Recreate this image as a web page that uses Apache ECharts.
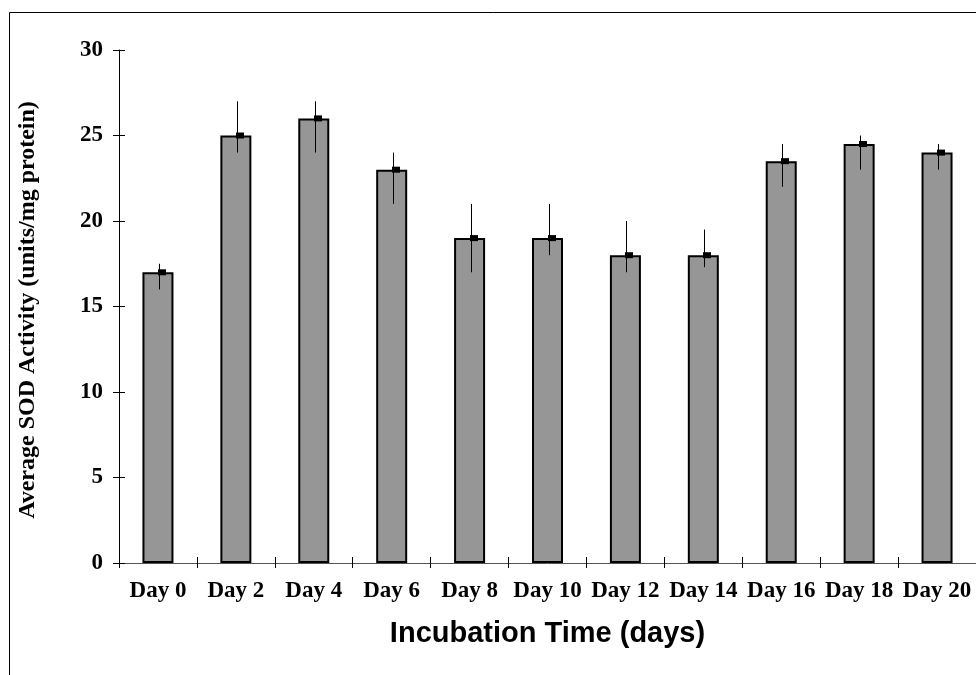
<!DOCTYPE html>
<html>
<head>
<meta charset="utf-8">
<script src="https://cdn.jsdelivr.net/npm/echarts@6/dist/echarts.min.js"></script>
<style>
  html, body { margin: 0; padding: 0; background: #fff; }
  #chart { width: 976px; height: 675px; }
</style>
</head>
<body>
<div id="chart"></div>
<script>
// Superoxide dismutase activity over the incubation period
const days = ['Day 0', 'Day 2', 'Day 4', 'Day 6', 'Day 8', 'Day 10', 'Day 12', 'Day 14', 'Day 16', 'Day 18', 'Day 20'];
const meanActivity = [17, 25, 26, 23, 19, 19, 18, 18, 23.5, 24.5, 24];
const errorLow  = [16, 24, 24, 21, 17, 18, 17, 17.3, 22, 23, 23];
const errorHigh = [17.5, 27, 27, 24, 21, 21, 20, 19.5, 24.5, 25, 24.5];
const yTicks = [0, 5, 10, 15, 20, 25, 30];

const serif = '"Liberation Serif", "Times New Roman", serif';
const sans = '"Liberation Sans", Arial, sans-serif';

const errorData = days.map((d, i) => [i, errorLow[i], errorHigh[i], meanActivity[i]]);

const chart = echarts.init(document.getElementById('chart'), null, { renderer: 'canvas' });

const yBase = {
  type: 'value',
  min: yTicks[0],
  max: yTicks[yTicks.length - 1],
  interval: yTicks[1] - yTicks[0],
  splitLine: { show: false },
  position: 'left'
};
const xBase = {
  type: 'category',
  data: days,
  position: 'bottom',
  boundaryGap: true
};

chart.setOption({
  animation: false,
  backgroundColor: '#fff',
  grid: { left: 119, top: 50, width: 862, height: 513, containLabel: false },
  graphic: [{
    type: 'rect',
    shape: { x: 9.5, y: 12.5, width: 1100, height: 800 },
    style: { fill: 'none', stroke: '#000', lineWidth: 1 },
    silent: true,
    z: -10
  }],
  xAxis: [
    Object.assign({}, xBase, {
      axisLine: { show: true, lineStyle: { color: '#555', width: 1 } },
      axisTick: { show: true, inside: false, length: 5, lineStyle: { color: '#000' } },
      axisLabel: {
        color: '#000', fontFamily: serif, fontWeight: 'bold', fontSize: 23,
        margin: 17, interval: 0
      },
      name: 'Incubation Time (days)',
      nameLocation: 'middle',
      nameGap: 56,
      nameTextStyle: { color: '#000', fontFamily: sans, fontWeight: 'bold', fontSize: 29 }
    }),
    Object.assign({}, xBase, {
      axisLine: { show: false },
      axisTick: { show: true, inside: true, length: 6, lineStyle: { color: '#000' } },
      axisLabel: { show: false }
    })
  ],
  yAxis: [
    Object.assign({}, yBase, {
      axisLine: { show: true, lineStyle: { color: '#000', width: 1 } },
      axisTick: { show: true, inside: false, length: 6, lineStyle: { color: '#000' } },
      axisLabel: {
        color: '#000', fontFamily: serif, fontWeight: 'bold', fontSize: 23, margin: 16
      },
      name: 'Average SOD Activity (units/mg protein)',
      nameLocation: 'middle',
      nameRotate: 90,
      nameGap: 79,
      nameTextStyle: {
        color: '#000', fontFamily: serif, fontWeight: 'bold', fontSize: 24,
        padding: [0, 7, 0, 0]
      }
    }),
    Object.assign({}, yBase, {
      axisLine: { show: false },
      axisTick: { show: true, inside: true, length: 6, lineStyle: { color: '#000' } },
      axisLabel: { show: false }
    })
  ],
  series: [
    {
      type: 'bar',
      data: meanActivity,
      xAxisIndex: 0,
      yAxisIndex: 0,
      barWidth: 31,
      itemStyle: { color: '#969696', borderColor: '#000', borderWidth: 2 },
      z: 2
    },
    {
      type: 'custom',
      data: errorData,
      xAxisIndex: 0,
      yAxisIndex: 0,
      z: 5,
      renderItem: function (params, api) {
        const i = api.value(0);
        const lo = api.coord([i, api.value(1)]);
        const hi = api.coord([i, api.value(2)]);
        const mid = api.coord([i, api.value(3)]);
        const lx = Math.round(lo[0]) + 1.5;
        return {
          type: 'group',
          children: [
            {
              type: 'line',
              shape: { x1: lx, y1: hi[1], x2: lx, y2: lo[1] },
              style: { stroke: '#000', lineWidth: 1 }
            },
            {
              type: 'rect',
              shape: { x: lx - 1.5, y: mid[1] - 3, width: 8, height: 6 },
              style: { fill: '#000' }
            }
          ]
        };
      }
    }
  ]
});
</script>
</body>
</html>
